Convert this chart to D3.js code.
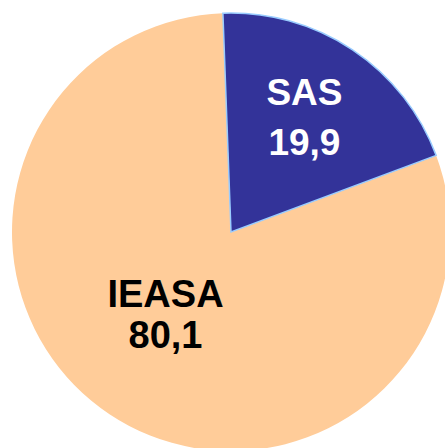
<!DOCTYPE html>
<html>
<head>
<meta charset="UTF-8">
<script src="https://d3js.org/d3.v7.min.js"></script>
<style>
html, body { margin: 0; padding: 0; background: #fff; }
svg { display: block; font-family: "Liberation Sans", Arial, sans-serif; }
</style>
</head>
<body>
<script>
// slices, in drawing order clockwise from the top
var labels = ["SAS", "IEASA"];
var values = [19.9, 80.1];
var valueText = ["19,9", "80,1"];

var width = 445, height = 448;
var cx = 231, cy = 232, radius = 219;

var svg = d3.select("body").append("svg")
    .attr("width", width)
    .attr("height", height);

var g = svg.append("g")
    .attr("transform", "translate(" + cx + "," + cy + ")");

var pie = d3.pie()
    .sort(null)
    .startAngle(-0.037)
    .endAngle(-0.037 + 2 * Math.PI)
    .value(function(d) { return d; });

var arcs = pie(values);
var arc = d3.arc().innerRadius(0).outerRadius(radius);

var fills = ["#333399", "#FFCC99"];
var strokes = ["#99CCFF", "none"];
var textFill = ["#ffffff", "#000000"];
var fontSize = [37, 38];
var labelR = [136, 100];
var nudge = [[-2, -1], [-10, 0]];
var lineGap = [50, 41];

// draw the big slice first so the small one's outline sits on top
var order = [1, 0];
order.forEach(function(i) {
    g.append("path")
        .attr("d", arc(arcs[i]))
        .attr("fill", fills[i])
        .attr("stroke", strokes[i])
        .attr("stroke-width", 1.5);
});

arcs.forEach(function(a, i) {
    var c = d3.arc().innerRadius(labelR[i]).outerRadius(labelR[i]).centroid(a);
    var x = c[0] + nudge[i][0], y = c[1] + nudge[i][1];
    var t = g.append("text")
        .attr("text-anchor", "middle")
        .attr("font-weight", "bold")
        .attr("font-size", fontSize[i])
        .attr("fill", textFill[i]);
    t.append("tspan")
        .attr("x", x)
        .attr("y", y - lineGap[i] / 2 + 12)
        .text(labels[i]);
    t.append("tspan")
        .attr("x", x)
        .attr("y", y + lineGap[i] / 2 + 12)
        .text(valueText[i]);
});
</script>
</body>
</html>
